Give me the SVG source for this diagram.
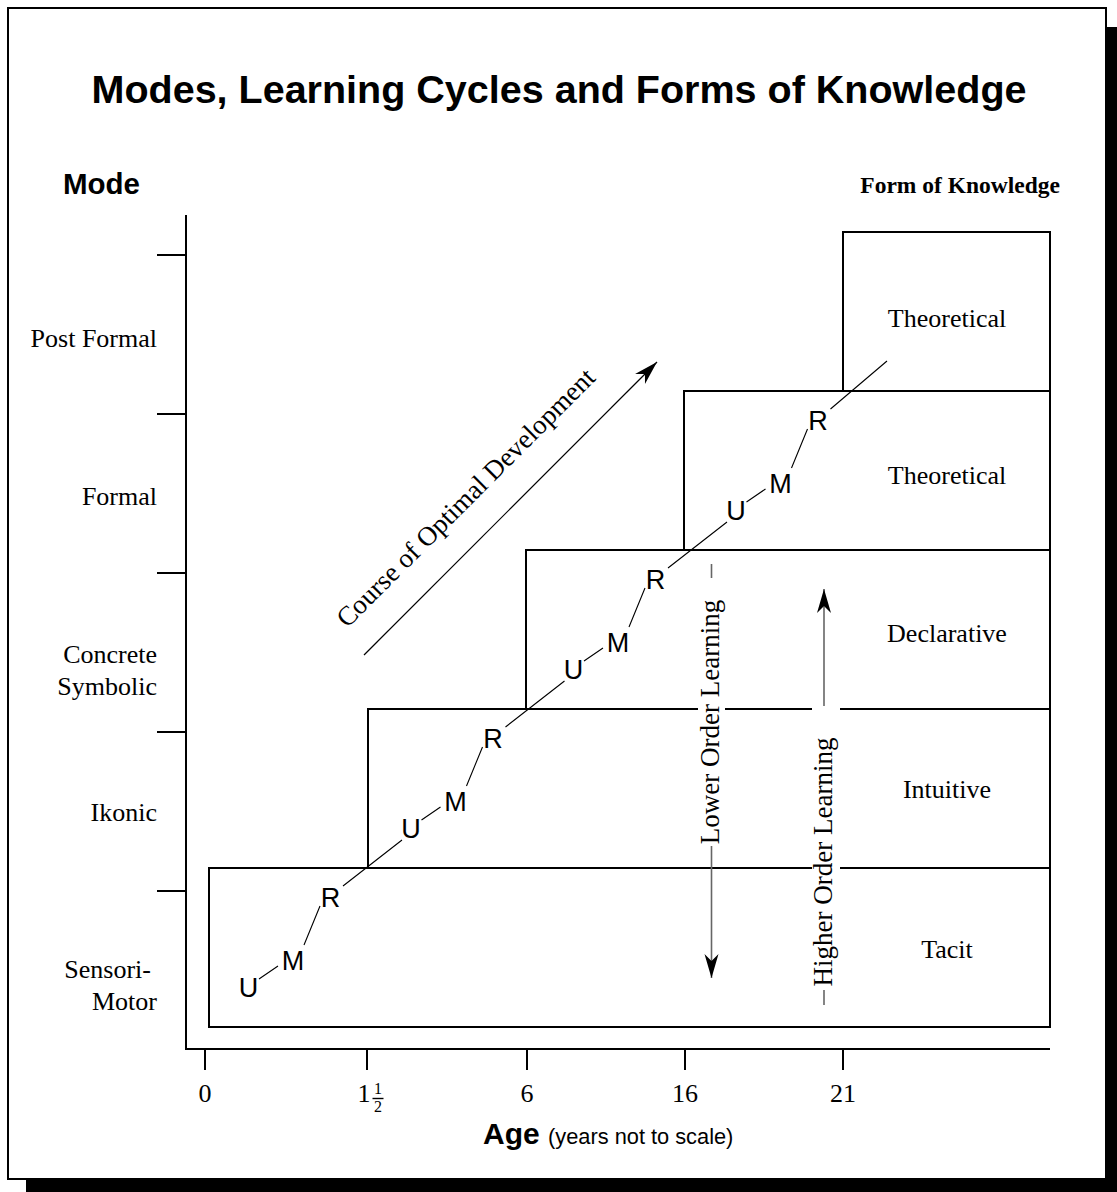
<svg xmlns="http://www.w3.org/2000/svg" width="1117" height="1192" viewBox="0 0 1117 1192">
  <defs>
    <style>
      .sans{font-family:"Liberation Sans",Arial,Helvetica,sans-serif}
      .serif{font-family:"Liberation Serif","Times New Roman",serif}
      .box{fill:#fff;stroke:#000;stroke-width:2}
      .ax{stroke:#000;stroke-width:2;fill:none}
      .lbl{font-size:26px;fill:#000}
      .mode{text-anchor:end}
      .form{text-anchor:middle}
      .age{text-anchor:middle}
      .cyc{font-size:27px;text-anchor:middle;fill:#000}
      .link{stroke:#000;stroke-width:1.1;fill:none}
      .guide{stroke:#666;stroke-width:1.6;fill:none}
      .gap{fill:#fff}
    </style>
    <marker id="head" viewBox="-25 -8 26 16" markerWidth="26" markerHeight="16" refX="0" refY="0" orient="auto" markerUnits="userSpaceOnUse">
      <path d="M0,0 L-24,-7 L-17,0 L-24,7 Z" fill="#000"/>
    </marker>
  </defs>

  <!-- page frame with drop shadow -->
  <rect x="26" y="1180" width="1091" height="12" fill="#000"/>
  <rect x="1107" y="27" width="10" height="1165" fill="#000"/>
  <rect x="8" y="8" width="1098" height="1171" fill="#fff" stroke="#000" stroke-width="2"/>

  <!-- headings -->
  <text class="sans" x="559" y="103" font-size="39.5" font-weight="bold" text-anchor="middle">Modes, Learning Cycles and Forms of Knowledge</text>
  <text class="sans" x="63" y="194" font-size="29.5" font-weight="bold">Mode</text>
  <text class="serif" x="1060" y="193" font-size="23.5" font-weight="bold" text-anchor="end">Form of Knowledge</text>

  <!-- axes -->
  <g id="axes">
    <path class="ax" d="M186,215 V1049 H1050"/>
    <path class="ax" d="M157,255 H186 M157,414 H186 M157,573 H186 M157,732 H186 M157,891 H186"/>
    <path class="ax" d="M205,1049 V1070 M367,1049 V1070 M527,1049 V1070 M685,1049 V1070 M843,1049 V1070"/>
  </g>

  <!-- mode labels (vertical axis) -->
  <g id="modes" class="serif lbl mode">
    <text x="157" y="347">Post Formal</text>
    <text x="157" y="505">Formal</text>
    <text x="157" y="663">Concrete</text>
    <text x="157" y="695">Symbolic</text>
    <text x="157" y="821">Ikonic</text>
    <text x="151" y="978">Sensori-</text>
    <text x="157" y="1010">Motor</text>
  </g>

  <!-- age labels (horizontal axis) -->
  <g id="ages" class="serif lbl age">
    <text x="205" y="1102">0</text>
    <text x="364" y="1102">1</text>
    <text x="378" y="1094" font-size="16">1</text>
    <text x="378" y="1112" font-size="16">2</text>
    <text x="527" y="1102">6</text>
    <text x="685" y="1102">16</text>
    <text x="843" y="1102">21</text>
  </g>
  <line x1="372.5" y1="1098.5" x2="383.5" y2="1098.5" stroke="#000" stroke-width="1.4"/>
  <text class="sans" x="483" y="1144" font-size="30" font-weight="bold">Age <tspan font-size="21.8" font-weight="normal">(years not to scale)</tspan></text>

  <!-- knowledge levels -->
  <g id="tacit">
    <rect class="box" x="209" y="868" width="841" height="159"/>
    <text class="serif lbl form" x="947" y="958">Tacit</text>
  </g>
  <g id="intuitive">
    <rect class="box" x="368" y="709" width="682" height="159"/>
    <text class="serif lbl form" x="947" y="798">Intuitive</text>
  </g>
  <g id="declarative">
    <rect class="box" x="526" y="550" width="524" height="159"/>
    <text class="serif lbl form" x="947" y="642">Declarative</text>
  </g>
  <g id="theoretical-formal">
    <rect class="box" x="684" y="391" width="366" height="159"/>
    <text class="serif lbl form" x="947" y="484">Theoretical</text>
  </g>
  <g id="theoretical-postformal">
    <rect class="box" x="843" y="232" width="207" height="159"/>
    <text class="serif lbl form" x="947" y="327">Theoretical</text>
  </g>

  <!-- learning cycle letters -->
  <g id="cycles" class="sans cyc">
    <text x="248.5" y="997">U</text><text x="293" y="970">M</text><text x="330.5" y="906.5">R</text>
    <text x="411" y="838">U</text><text x="455.5" y="811">M</text><text x="493" y="747.5">R</text>
    <text x="573.5" y="679">U</text><text x="618" y="652">M</text><text x="655.5" y="588.5">R</text>
    <text x="736" y="520">U</text><text x="780.5" y="493">M</text><text x="818" y="429.5">R</text>
  </g>

  <!-- connectors -->
  <g id="connectors">
    <path class="link" d="M259,979 L278,966 M304,945 L320,906 M343,886 L402,840"/>
    <path class="link" d="M421.5,820 L440.5,807 M466.5,786 L482.5,747 M505.5,727 L564.5,681"/>
    <path class="link" d="M584,661 L603,648 M629,627 L645,588 M668,568 L727,522"/>
    <path class="link" d="M746.5,502 L765.5,489 M791.5,468 L807.5,429 M830.5,409 L887,361"/>

    <!-- course of optimal development -->
    <line x1="364" y1="655" x2="657" y2="362" stroke="#000" stroke-width="1.2" marker-end="url(#head)"/>

    <!-- lower order learning -->
    <line class="guide" x1="711.5" y1="564" x2="711.5" y2="978" marker-end="url(#head)"/>
    <rect class="gap" x="698" y="578" width="27" height="268"/>

    <!-- higher order learning -->
    <line class="guide" x1="824" y1="1005" x2="824" y2="589" marker-end="url(#head)"/>
    <rect class="gap" x="812" y="706" width="28" height="284"/>
  </g>

  <!-- connector labels -->
  <text class="serif" font-size="27" text-anchor="middle" transform="translate(472,504) rotate(-45)">Course of Optimal Development</text>
  <text class="serif" font-size="27" text-anchor="middle" transform="translate(719,722) rotate(-90)">Lower Order Learning</text>
  <text class="serif" font-size="27" text-anchor="middle" transform="translate(832,862) rotate(-90)">Higher Order Learning</text>
</svg>
